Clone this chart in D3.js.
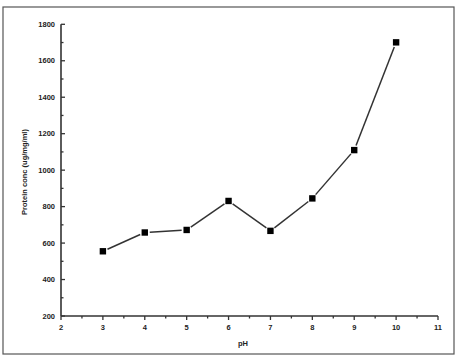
<!DOCTYPE html>
<html><head><meta charset="utf-8">
<script src="https://cdn.jsdelivr.net/npm/d3@7"></script>
<style>body{margin:0;background:#fff}svg{display:block}text{font-family:"Liberation Sans",Arial,sans-serif;font-weight:bold}</style>
</head><body><svg id="c" width="459" height="358"></svg>
<script>
const phValues = [3, 4, 5, 6, 7, 8, 9, 10];
const proteinConc = [555, 658, 672, 831, 667, 845, 1110, 1701];
const xTicks = [2, 3, 4, 5, 6, 7, 8, 9, 10, 11];
const yTicks = [200, 400, 600, 800, 1000, 1200, 1400, 1600, 1800];
const xLabel = "pH";
const yLabel = "Protein conc (ug/mg/ml)";

const svg = d3.select("#c");
svg.append("rect").attr("x", 3).attr("y", 7).attr("width", 451).attr("height", 347)
  .attr("fill", "#fff").attr("stroke", "#555").attr("stroke-width", 1.2);

const x = d3.scaleLinear().domain([2, 11]).range([61, 438]);
const y = d3.scaleLinear().domain([200, 1800]).range([316, 24.3]);

// x axis
const gx = svg.append("g").attr("transform", "translate(0,316)");
gx.append("line").attr("x1", x(2)).attr("x2", x(11)).attr("stroke", "#333").attr("stroke-width", 1.6);
const xMinor = d3.range(2, 11.01, 0.5);
gx.selectAll(".xt").data(xMinor).join("line")
  .attr("x1", d => x(d)).attr("x2", d => x(d)).attr("y1", 0).attr("y2", d => Number.isInteger(d) ? 4 : 2.5)
  .attr("stroke", "#333").attr("stroke-width", 1.3);
gx.selectAll(".xl").data(xTicks).join("text")
  .attr("x", d => x(d)).attr("y", 14).attr("text-anchor", "middle").attr("font-size", 7.5).attr("fill", "#222")
  .text(d => d);

// y axis
const gy = svg.append("g").attr("transform", "translate(61,0)");
gy.append("line").attr("y1", y(200)).attr("y2", y(1800)).attr("stroke", "#333").attr("stroke-width", 1.6);
const yMinor = d3.range(200, 1800.1, 100);
gy.selectAll(".yt").data(yMinor).join("line")
  .attr("y1", d => y(d)).attr("y2", d => y(d)).attr("x1", 0).attr("x2", d => d % 200 === 0 ? 4 : 2.5)
  .attr("stroke", "#333").attr("stroke-width", 1.3);
gy.selectAll(".yl").data(yTicks).join("text")
  .attr("x", -6).attr("y", d => y(d) + 2.5).attr("text-anchor", "end").attr("font-size", 7.5).attr("fill", "#222")
  .text(d => d);

// labels
svg.append("text").attr("x", 243).attr("y", 346).attr("text-anchor", "middle").attr("font-size", 7.5).attr("fill", "#222").text(xLabel);
svg.append("text").attr("transform", "translate(27,172) rotate(-90)").attr("text-anchor", "middle")
  .attr("font-size", 7.5).attr("fill", "#222").text(yLabel);

// line with gaps near markers
const pts = phValues.map((p, i) => [x(p), y(proteinConc[i])]);
const gap = 5;
const segs = [];
for (let i = 0; i < pts.length - 1; i++) {
  const [x1, y1] = pts[i], [x2, y2] = pts[i + 1];
  const len = Math.hypot(x2 - x1, y2 - y1);
  const ux = (x2 - x1) / len, uy = (y2 - y1) / len;
  segs.push([x1 + ux * gap, y1 + uy * gap, x2 - ux * gap, y2 - uy * gap]);
}
svg.selectAll(".seg").data(segs).join("line")
  .attr("x1", d => d[0]).attr("y1", d => d[1]).attr("x2", d => d[2]).attr("y2", d => d[3])
  .attr("stroke", "#333").attr("stroke-width", 1.5);
svg.selectAll(".m").data(phValues).join("rect")
  .attr("x", (d, i) => x(d) - 3.2).attr("y", (d, i) => y(proteinConc[i]) - 3.2)
  .attr("width", 6.4).attr("height", 6.4).attr("fill", "#000");
</script></body></html>
